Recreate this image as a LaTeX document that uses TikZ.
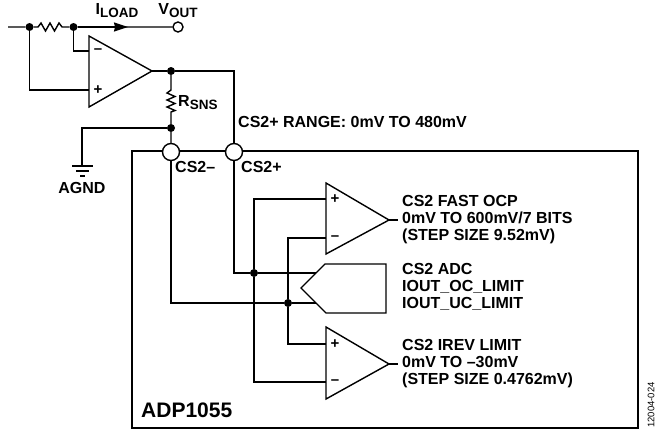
\documentclass[tikz,border=0pt]{standalone}
\usepackage{fontspec}
\setmainfont{Liberation Sans}
\usepackage{tikz}
\usetikzlibrary{arrows.meta}
\newcommand{\subtxt}[2]{#1\raisebox{-3pt}{\fontsize{13.5}{13.5}\selectfont #2}}

\begin{document}
\begin{tikzpicture}[
x = 1pt, y = -1pt,
wire/.style = {line width = 1.4pt},
every node/.style = {font = \fontsize{16}{17}\selectfont\bfseries, inner sep = 0pt, align = left},
dot/.style = {circle, fill = black, minimum size = 8pt},
port/.style = {circle, draw, fill = white, line width = 1.4pt, minimum size = 17pt},
vout/.style = {circle, draw, fill = white, line width = 1.4pt, minimum size = 10pt},
sign/.style = {font = \fontsize{15}{15}\selectfont\bfseries}
]
\useasboundingbox (0,0) rectangle (658,431);

% junctions
\node[dot] (inl) at (29.5,27) {};
\node[dot] (inr) at (73.5,27) {};
\node[dot] (outa) at (171,71) {};
\node[dot] (gnda) at (171,128) {};
\node[dot] (csp) at (254,273) {};
\node[dot] (csm) at (288,303) {};
\node[vout] (vo) at (178,27) {};

% free ends
\coordinate (start) at (8,27);
\coordinate (rl) at (38,27);
\coordinate (rr) at (64,27);
\coordinate (arrow) at (128,27);
\coordinate (snst) at (171,90);
\coordinate (snsb) at (171,112);
\coordinate (oa) at (152,71);
\coordinate (oam) at (89,51);
\coordinate (oap) at (89,90);
\coordinate (gnd) at (82,166);
\coordinate (cpa) at (254,199);
\coordinate (cpb) at (326,199);
\coordinate (cma) at (288,238);
\coordinate (cmb) at (326,238);
\coordinate (rpa) at (288,344);
\coordinate (rpb) at (326,344);
\coordinate (rma) at (254,382);
\coordinate (rmb) at (326,382);
\coordinate (adcu) at (315.5,273);
\coordinate (adcl) at (315.5,303);

% chip outline and pins
\draw[line width = 2.2pt] (132,151) rectangle (638,428);
\node[port] (pinm) at (171,152) {};
\node[port] (pinp) at (234,152) {};

% amplifiers
\draw[wire] (89,36) -- (oa) -- (89,107) -- cycle;
\draw[wire] (326,183) -- (389,220) -- (326,254) -- cycle;
\draw[wire] (326,327) -- (389,364) -- (326,399) -- cycle;
\draw[wire] (325,264) -- (386,264) -- (386,313) -- (326,313) -- (301,288) -- cycle;
\draw[wire] (389,220) -- (398,220);
\draw[wire] (389,364) -- (398,364);

% wires
\draw[wire] (start) -- (inl) -- (rl)
    -- ++(3,-4) -- ++(4.5,8) -- ++(4.5,-8) -- ++(4.5,8) -- ++(4.5,-8) -- ++(3,4)
    -- (rr) -- (inr) -- (vo);
\draw[wire, -{Stealth[length = 14pt, width = 9pt, inset = 1pt]}] (inr) -- (arrow);
\draw[wire] (inr) |- (oam);
\draw[wire] (inl) |- (oap);
\draw[wire] (oa) -- (outa) -| (pinp);
\draw[wire] (outa) -- (snst)
    -- ++(-4,3) -- ++(8,3.5) -- ++(-8,3.5) -- ++(8,3.5) -- ++(-8,3.5) -- ++(8,3.5) -- (snsb)
    -- (gnda) -- (pinm);
\draw[wire] (gnda) -| (gnd);
\draw[wire] (72,166) -- (93,166) (76,171) -- (89,171) (80,176) -- (85,176);
\draw[wire] (pinp) |- (csp) -- (adcu);
\draw[wire] (pinm) |- (csm) -- (adcl);
\draw[wire] (csp) -- (cpa) -- (cpb);
\draw[wire] (csm) -- (cma) -- (cmb);
\draw[wire] (csm) -- (rpa) -- (rpb);
\draw[wire] (csp) -- (rma) -- (rmb);

% signs
\node[sign] (p1) at (98,90) {+};
\node[sign] (m1) at (98,51) {--};
\node[sign] (p2) at (335,199) {+};
\node[sign] (m2) at (335,238) {--};
\node[sign] (p3) at (335,344) {+};
\node[sign] (m3) at (335,382) {--};

% labels
\node (iload) at (117,11) {\subtxt{I}{LOAD}};
\node (voutl) at (178,11) {\subtxt{V}{OUT}};
\node[anchor = west] (rsns) at (178,103) {\subtxt{R}{SNS}};
\node[anchor = west] (range) at (238,122) {CS2+ RANGE: 0mV TO 480mV};
\node (agnd) at (82,188) {AGND};
\node[anchor = west] (lcsm) at (175,167) {CS2--};
\node[anchor = west] (lcsp) at (241,167) {CS2+};
\node[anchor = west] (fast) at (402,220) {CS2 FAST OCP\\0mV TO 600mV/7 BITS\\(STEP SIZE 9.52mV)};
\node[anchor = west] (adc) at (402,287) {CS2 ADC\\IOUT\_OC\_LIMIT\\IOUT\_UC\_LIMIT};
\node[anchor = west] (irev) at (402,364) {CS2 IREV LIMIT\\0mV TO --30mV\\(STEP SIZE 0.4762mV)};
\node[anchor = west, font = \fontsize{21}{21}\selectfont\bfseries] (chip) at (141,410) {ADP1055};
\node[rotate = 90, anchor = west, font = \fontsize{9.5}{9.5}\selectfont] (figid) at (651,428) {12004-024};
\end{tikzpicture}
\end{document}
